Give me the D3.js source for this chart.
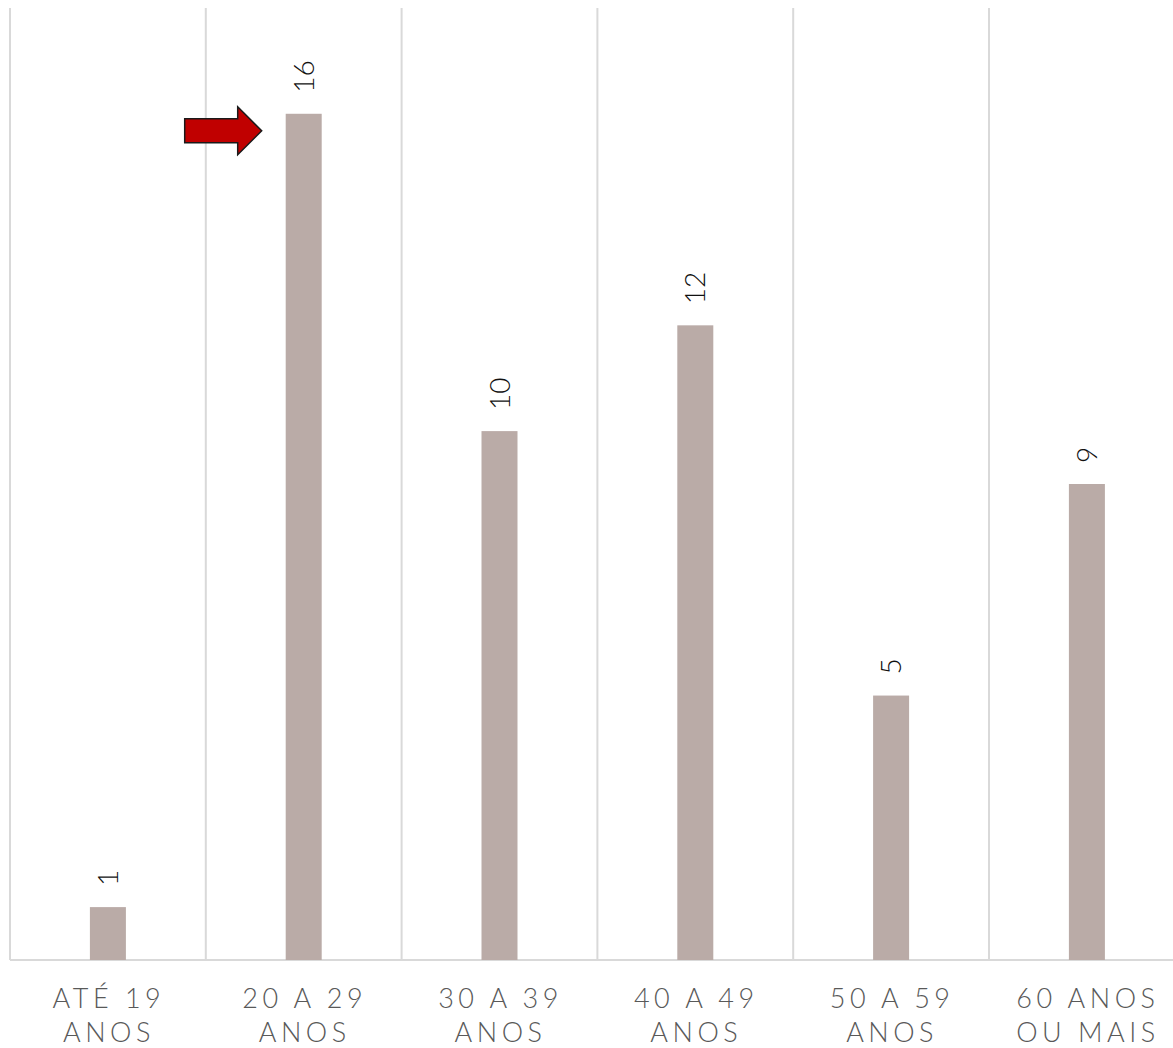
<!DOCTYPE html>
<html>
<head>
<meta charset="utf-8">
<script src="https://cdn.jsdelivr.net/npm/d3@7"></script>
<style>
  html, body { margin: 0; padding: 0; background: #ffffff; }
  svg { display: block; }
</style>
</head>
<body>
<svg id="chart" width="1173" height="1048"></svg>
<script>
const categories = ["ATÉ 19 ANOS", "20 A 29 ANOS", "30 A 39 ANOS", "40 A 49 ANOS", "50 A 59 ANOS", "60 ANOS OU MAIS"];
const tickLines = [["ATÉ 19", "ANOS"], ["20 A 29", "ANOS"], ["30 A 39", "ANOS"], ["40 A 49", "ANOS"], ["50 A 59", "ANOS"], ["60 ANOS", "OU MAIS"]];
const values = [1, 16, 10, 12, 5, 9];
const highlightCategory = "20 A 29 ANOS";
const yMax = 18;

const svg = d3.select("#chart");
const W = 1173, H = 1048;
const mLeft = 10, bandW = 195.8, mTop = 8, mBottom = 960;

const x = d3.scaleBand().domain(categories).range([mLeft, mLeft + bandW * categories.length]).padding(0);
const y = d3.scaleLinear().domain([0, yMax]).range([mBottom, mTop]);
const barW = 36;

// vertical gridlines at band edges
const edges = categories.map(c => x(c)).concat([x(categories[categories.length - 1]) + x.bandwidth()]);
svg.append("g").selectAll("line").data(edges).join("line")
  .attr("x1", d => d).attr("x2", d => d)
  .attr("y1", y(yMax)).attr("y2", y(0))
  .attr("stroke", "#d9d9d9").attr("stroke-width", 2);

// x axis line
svg.append("line")
  .attr("x1", mLeft).attr("x2", W)
  .attr("y1", y(0)).attr("y2", y(0))
  .attr("stroke", "#d9d9d9").attr("stroke-width", 2);

// bars
svg.append("g").selectAll("rect").data(values).join("rect")
  .attr("x", (d, i) => x(categories[i]) + x.bandwidth() / 2 - barW / 2)
  .attr("y", d => y(d))
  .attr("width", barW)
  .attr("height", d => y(0) - y(d))
  .attr("fill", "#baaba7");

// value labels (rotated)
svg.append("g").selectAll("text").data(values).join("text")
  .attr("transform", (d, i) => `translate(${x(categories[i]) + x.bandwidth() / 2 - 1},${y(d) - 21}) rotate(-90)`)
  .attr("text-anchor", "start")
  .attr("dominant-baseline", "central")
  .attr("font-family", "Lato, 'Open Sans', sans-serif")
  .attr("font-weight", 300)
  .attr("font-size", 28)
  .attr("fill", "#111111")
  .text(d => d);

// tick labels
const tg = svg.append("g").selectAll("text").data(tickLines).join("text")
  .attr("text-anchor", "middle")
  .attr("font-family", "Lato, 'Open Sans', sans-serif")
  .attr("font-weight", 300)
  .attr("font-size", 27)
  .attr("letter-spacing", 4.5)
  .attr("fill", "#595959");
tg.each(function(lines, i) {
  const cx = x(categories[i]) + x.bandwidth() / 2 + 1;
  d3.select(this).selectAll("tspan").data(lines).join("tspan")
    .attr("x", cx)
    .attr("y", (l, j) => 1008 + j * 34)
    .text(l => l);
});

// highlight arrow pointing to the highlighted bar
const hi = categories.indexOf(highlightCategory);
const tipX = x(categories[hi]) + x.bandwidth() / 2 - barW / 2 - 24;
const tipY = y(values[hi]) + 17;
const headLen = 24, headHalf = 24, bodyHalf = 12, bodyLen = 53;
const arrowPts = [
  [tipX, tipY],
  [tipX - headLen, tipY - headHalf],
  [tipX - headLen, tipY - bodyHalf],
  [tipX - headLen - bodyLen, tipY - bodyHalf],
  [tipX - headLen - bodyLen, tipY + bodyHalf],
  [tipX - headLen, tipY + bodyHalf],
  [tipX - headLen, tipY + headHalf]
];
svg.append("path")
  .attr("d", d3.line()(arrowPts) + "Z")
  .attr("fill", "#c00000")
  .attr("stroke", "#1a1a1a")
  .attr("stroke-width", 1.5)
  .attr("stroke-linejoin", "miter");
</script>
</body>
</html>
